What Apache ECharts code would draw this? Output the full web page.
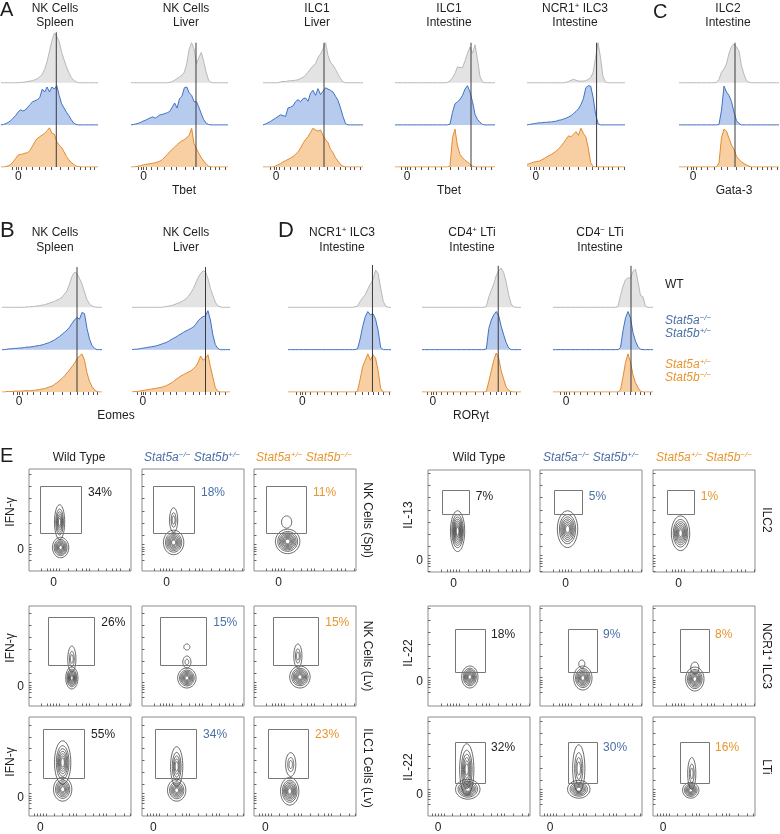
<!DOCTYPE html>
<html><head><meta charset="utf-8">
<script src="https://cdn.jsdelivr.net/npm/echarts@6.0.0/dist/echarts.min.js"></script>
<style>html,body{margin:0;padding:0;background:#fff}#c{width:780px;height:834px}</style>
</head><body><div id="c"></div>
<script>
// ---------- DATA ----------
const histX = [0,2.5,5,7.5,10,12.5,15,17.5,20,22.5,25,27.5,30,32.5,35,37.5,40,42.5,45,47.5,50,52.5,55,57.5,60,62.5,65,67.5,70,72.5,75,77.5,80,82.5,85,87.5,90,92.5,95,97.5,100];

// Panel A: Tbet
const tbet_nkSpl_wt = [0,0,0,0,0,0,0,0,.01,.01, .02,.03,.04,.05,.07,.1,.14,.2,.32,.5, .75,1.0,1.18,1.1,.98,.72,.55,.38,.24,.12, .06,.02,0,0,0,0,0,0,0,0,0];
const tbet_nkSpl_5a = [0,.01,.03,.06,.1,.16,.22,.3,.36,.33, .35,.42,.48,.55,.57,.6,.65,.85,.78,.9, .78,.9,.85,.93,.7,.5,.4,.3,.22,.12, .04,.01,0,0,0,0,0,0,0,0,0];
const tbet_nkSpl_5b = [0,0,.01,.03,.06,.12,.2,.28,.3,.31, .33,.34,.4,.5,.6,.68,.72,.76,.8,.86, .93,.8,.78,.6,.52,.46,.36,.25,.17,.1, .06,.02,.01,0,0,0,0,0,0,0,0];
const tbet_nkLiv_wt = [0,0,0,0,0,0,0,0,0,0, 0,0,0,0,0,0,.01,.03,.06,.1, .14,.18,.25,.45,.8,.95,.8,.45,.6,.72, .5,.25,.06,.01,0,0,0,0,0,0,0];
const tbet_nkLiv_5a = [0,.01,.02,.04,.06,.09,.11,.14,.17,.19, .16,.2,.24,.25,.27,.29,.32,.42,.52,.4, .62,.68,.88,.9,.76,.7,.55,.55,.42,.26, .12,.04,.01,0,0,0,0,0,0,0,0];
const tbet_nkLiv_5b = [0,0,.01,.02,.03,.05,.06,.07,.08,.09, .1,.12,.14,.18,.24,.3,.36,.42,.47,.53, .58,.62,.65,.7,.75,.92,.55,.44,.32,.22, .14,.07,.02,0,0,0,0,0,0,0,0];
const tbet_ilc1Liv_wt = [0,0,0,0,0,0,0,.02,.03,.03, .04,.05,.05,.06,.07,.1,.13,.18,.25,.33, .4,.45,.6,.68,.8,.95,.65,.48,.42,.32, .2,.1,.02,0,0,0,0,0,0,0,0];
const tbet_ilc1Liv_5a = [0,.02,.05,.08,.12,.16,.2,.24,.22,.2, .4,.42,.45,.55,.6,.55,.62,.64,.56,.75, .82,.7,.86,.72,.8,.88,.85,.82,.78,.68, .58,.4,.2,.03,0,0,0,0,0,0,0];
const tbet_ilc1Liv_5b = [0,0,0,0,0,.02,.05,.08,.12,.15, .18,.21,.25,.3,.36,.45,.56,.65,.72,.82, .92,.88,.85,.88,.75,.65,.58,.42,.34,.22, .14,.06,.02,0,0,0,0,0,0,0,0];
const tbet_ilc1Int_wt = [0,0,0,0,0,0,0,0,0,0, 0,0,0,0,0,0,0,0,0,0, 0,.01,.04,.12,.22,.38,.36,.36,.52,.7, .85,.7,.9,.55,.15,.02,0,0,0,0,0];
const tbet_ilc1Int_5a = [0,0,0,0,0,0,0,0,0,0, 0,0,0,0,0,0,0,0,0,0, 0,0,.02,.3,.5,.55,.6,.7,.85,.93, .78,.55,.25,.13,.06,.01,0,0,0,0,0];
const tbet_ilc1Int_5b = [0,0,0,0,0,0,0,0,0,0, 0,0,0,0,0,0,0,0,0,0, 0,0,.02,.7,.9,.5,.3,.22,.16,.12, .06,.02,0,0,0,0,0,0,0,0,0];
const tbet_ncr1_wt = [0,0,0,0,0,0,0,0,0,0, 0,0,0,0,0,0,.01,.03,.06,.08, .06,.04,.04,.04,.05,.08,.12,.25,.6,.95, .6,.15,.02,0,0,0,0,0,0,0,0];
const tbet_ncr1_5a = [0,.01,.02,.03,.04,.05,.05,.06,.06,.07, .07,.08,.09,.11,.12,.14,.16,.19,.22,.27, .32,.38,.48,.62,.88,.93,.92,.65,.25,.03, 0,0,0,0,0,0,0,0,0,0,0];
const tbet_ncr1_5b = [.06,.08,.1,.12,.13,.14,.17,.2,.24,.27, .3,.34,.38,.44,.5,.58,.66,.74,.72,.78, .84,.75,.92,.8,.72,.45,.1,.01,0,0, 0,0,0,0,0,0,0,0,0,0,0];
const tbetLines = [57, 67, 61, 76, 71];
const tbetLineTops = [3.2, 2.95, 2.95, 2.95, 2.95];

// Panel C: Gata-3
const gata_ilc2_wt = [0,0,0,0,0,0,0,0,0,0, 0,0,0,0,0,.01,.08,.25,.33,.45, .7,.85,.92,.85,.75,.4,.2,.05,.01,0, 0,0,0,0,0,0,0,0,0,0,0];
const gata_ilc2_5a = [0,0,0,0,0,0,0,0,0,0, 0,0,0,0,0,0,.01,.35,.92,.78, .7,.55,.3,.1,.03,0,0,0,0,0, 0,0,0,0,0,0,0,0,0,0,0];
const gata_ilc2_5b = [0,0,0,0,0,0,0,0,0,0, 0,0,0,0,0,0,.1,.7,.9,.85, .68,.52,.42,.25,.18,.12,.08,.05,.02,0, 0,0,0,0,0,0,0,0,0,0,0];
const gataLines = [56];
const gataLineTops = [2.95];

// Panel B: Eomes
const eomes_nkSpl_wt = [0,0,0,0,0,0,0,0,0,0, .01,.01,.02,.02,.03,.04,.05,.06,.08,.1, .12,.14,.17,.2,.24,.31,.39,.55,.73,.83, .8,.68,.55,.36,.18,.08,.03,.01,0,0,0];
const eomes_nkSpl_5a = [0,0,.01,.02,.02,.03,.03,.04,.04,.05, .06,.06,.07,.08,.09,.1,.11,.13,.15,.17, .2,.23,.27,.31,.36,.41,.46,.53,.62,.7, .76,.72,.88,.85,.5,.25,.1,.03,0,0,0];
const eomes_nkSpl_5b = [0,0,.01,.01,.01,.02,.02,.02,.02,.03, .03,.03,.03,.04,.05,.06,.07,.08,.1,.12, .14,.18,.22,.27,.32,.38,.45,.52,.6,.68, .78,.85,.9,.75,.45,.25,.13,.05,.01,0,0];
const eomes_nkLiv_wt = [0,0,0,0,0,0,0,0,0,0, 0,0,0,.01,.02,.03,.04,.06,.08,.1, .13,.16,.2,.26,.34,.44,.57,.7,.8,.86, .84,.68,.45,.28,.12,.04,.01,0,0,0,0];
const eomes_nkLiv_5a = [0,.01,.01,.02,.03,.04,.05,.06,.07,.08, .09,.11,.13,.15,.17,.2,.24,.27,.3,.34, .37,.41,.44,.47,.5,.53,.6,.68,.74,.78, .8,.92,.7,.35,.12,.03,0,0,0,0,0];
const eomes_nkLiv_5b = [0,.01,.01,.02,.03,.04,.05,.06,.07,.08, .09,.1,.11,.13,.15,.18,.21,.25,.3,.34, .38,.41,.44,.47,.5,.55,.6,.7,.85,.75, .8,.88,.6,.35,.1,.02,0,0,0,0,0];
const eomesLines = [75, 75];
const eomesLineTops = [2.95, 2.95];

// Panel D: RORgt
const ror_ncr1_wt = [0,0,0,0,0,0,0,0,0,0, 0,0,0,0,0,0,0,0,0,0, 0,0,0,0,0,0,.01,.03,.14,.22, .3,.43,.55,.65,.88,.8,.45,.14,.02,0,0];
const ror_ncr1_5a = [0,0,0,0,0,0,0,0,0,0, 0,0,0,0,0,0,0,0,0,0, 0,0,0,0,0,0,0,.02,.25,.55, .78,.9,.82,.85,.72,.45,.05,0,0,0,0];
const ror_ncr1_5b = [0,0,0,0,0,0,0,0,0,0, 0,0,0,0,0,0,0,0,0,0, 0,0,0,0,0,0,0,.02,.3,.6, .75,.9,.75,.88,.8,.5,.08,0,0,0,0];
const ror_cd4p_wt = [0,0,0,0,0,0,0,0,0,0, 0,0,0,0,0,0,0,0,0,0, 0,0,0,0,0,0,.02,.25,.4,.55, .75,.86,.93,.82,.6,.3,.08,.01,0,0,0];
const ror_cd4p_5a = [0,0,0,0,0,0,0,0,0,0, 0,0,0,0,0,0,0,0,0,0, 0,0,0,0,0,0,.02,.5,.7,.82, .9,.8,.55,.35,.17,.04,0,0,0,0,0];
const ror_cd4p_5b = [0,0,0,0,0,0,0,0,0,0, 0,0,0,0,0,0,0,0,0,0, 0,0,0,0,0,0,.01,.25,.5,.75, .92,.8,.5,.3,.12,.04,.01,0,0,0,0];
const ror_cd4n_wt = [0,0,0,0,0,0,0,0,0,0, 0,0,0,0,0,0,0,0,0,0, 0,0,0,0,0,0,.02,.28,.5,.65, .7,.68,.85,.9,.6,.28,.25,.02,0,0,0];
const ror_cd4n_5a = [0,0,0,0,0,0,0,0,0,0, 0,0,0,0,0,0,0,0,0,0, 0,0,0,0,0,0,0,.05,.45,.75, .9,.75,.4,.2,.07,.01,0,0,0,0,0];
const ror_cd4n_5b = [0,0,0,0,0,0,0,0,0,0, 0,0,0,0,0,0,0,0,0,0, 0,0,0,0,0,0,0,.05,.35,.7, .9,.7,.4,.22,.1,.02,0,0,0,0,0];
const rorLines = [82, 77, 78];
const rorLineTops = [3.0, 2.98, 2.98];

// Panel E: gates [x1, yBottom, x2, yTop], percentages, contour populations [cx, cy, rx, ry, levels]
const ifnGates = [
  [[11,37,51,83],[11,37,51,83],[12,37,51,83]],
  [[19,41,64,89],[18,41,63,89],[19,41,63,89]],
  [[14,39,54,88],[13,39,53,88],[14,39,53,88]]
];
const ifnPct = [['34%','18%','11%'],['26%','15%','15%'],['55%','34%','23%']];
const ifnPops = [
  [ [[31,23,8,10,8],[30,48,5,17,6]], [[31,28,10,12,8],[31,50,4,12,3]], [[33,29,12,12,9],[32,48,5,6,1]] ],
  [ [[42,28,6,11,8],[42,47,4,13,3]], [[44,28,9,10,8],[44,44,4,6,2],[44,59,3,3,1]], [[45,29,10,11,8],[43,50,4,12,3]] ],
  [ [[33,54,8,22,7],[33,27,9,12,7]], [[34,50,6,20,5],[34,26,9,11,7]], [[36,52,5,12,3],[35,25,9,14,8]] ]
];
const ilGates = [
  [[14,56,40,80],[14,56,41,80],[14,56,40,80]],
  [[26,34,55,77],[27,34,55,77],[26,34,54,77]],
  [[26,34,55,75],[27,34,55,75],[26,34,54,75]]
];
const ilPct = [['7%','5%','1%'],['18%','9%','8%'],['32%','30%','16%']];
const ilPops = [
  [ [[29,40,7,20,9]], [[27,42,10,18,8]], [[27,38,9,17,8]] ],
  [ [[41,29,8,11,8]], [[42,28,9,12,8],[41,42,3,4,1]], [[41,27,9,12,8],[41,38,4,6,1]] ],
  [ [[39,27,12,10,8],[38,47,7,26,6]], [[38,27,11,9,7],[38,48,6,24,4]], [[37,26,8,8,7],[38,43,4,16,3]] ]
];

const histTickOffsets = [-6,-2,0,3,8,14,21,28,34,43,51,58,64,69,74,78,84,90];
const contourTickOffsetsX = [-12,-6,-3,0,3,6,14,22,28,32,35,44,52,58,62,65,74,82,88,92];
const contourTickOffsetsY = [-10,-5,-2,0,2,5,14,26,38,50,62,74,86];

// ---------- STYLE ----------
const FF = '"Liberation Sans", Arial, Helvetica, sans-serif';
const DARK = '#1e1e1e', BLUE_T = '#4b6fa6', ORANGE_T = '#e8952f';
const GRAY = {line:'#b8b8b8', fill:'#e3e3e3'};
const BLUE = {line:'#4271c3', fill:'#b7cbef'};
const ORANGE = {line:'#e38a30', fill:'#f7cfa2'};

const grids = [], xAxes = [], yAxes = [], series = [], graphics = [];
function addGrid(g, xa, ya) {
  const i = grids.length;
  grids.push(g);
  xAxes.push(Object.assign({gridIndex:i}, xa));
  yAxes.push(Object.assign({gridIndex:i}, ya));
  return i;
}
function inRange(v){ return v >= 0 && v <= 100; }

function histPanel(p, top, height, ymax) {
  const gi = addGrid({left:p.left, top:top, width:p.width, height:height},
    {type:'value', min:0, max:100, axisLine:{show:false}, splitLine:{show:false},
     axisTick:{show:true, length:3, lineStyle:{color:'#555', width:1},
       customValues: histTickOffsets.map(o => p.zero + o).filter(inRange)},
     axisLabel:{show:true, customValues:[p.zero], formatter:() => '0', fontSize:12, fontFamily:FF, color:DARK, margin:4}},
    {type:'value', min:0, max:ymax, show:false});
  [[p.wt, 2, GRAY], [p.a, 1, BLUE], [p.b, 0, ORANGE]].forEach(s => {
    const vals = s[0], base = s[1], c = s[2];
    series.push({type:'line', xAxisIndex:gi, yAxisIndex:gi, silent:true,
      data: histX.map((x, j) => [x, base + vals[j]]), symbol:'none',
      lineStyle:{color:c.line, width:1}, areaStyle:{color:c.fill, opacity:1, origin:base}});
  });
  series.push({type:'line', xAxisIndex:gi, yAxisIndex:gi, silent:true, z:5,
    data:[[p.line, 0], [p.line, p.lineTop]], symbol:'none', lineStyle:{color:'#3a3a3a', width:1}});
}

const topA = 28, hA = 139, ymaxA = 3.3;
const topB = 262, hB = 130, ymaxB = 3.07;
[
  {left:1, width:97, zero:18, wt:tbet_nkSpl_wt, a:tbet_nkSpl_5a, b:tbet_nkSpl_5b, line:tbetLines[0], lineTop:tbetLineTops[0]},
  {left:131, width:97, zero:13, wt:tbet_nkLiv_wt, a:tbet_nkLiv_5a, b:tbet_nkLiv_5b, line:tbetLines[1], lineTop:tbetLineTops[1]},
  {left:263, width:100, zero:13, wt:tbet_ilc1Liv_wt, a:tbet_ilc1Liv_5a, b:tbet_ilc1Liv_5b, line:tbetLines[2], lineTop:tbetLineTops[2]},
  {left:395, width:100, zero:12, wt:tbet_ilc1Int_wt, a:tbet_ilc1Int_5a, b:tbet_ilc1Int_5b, line:tbetLines[3], lineTop:tbetLineTops[3]},
  {left:527, width:98, zero:9, wt:tbet_ncr1_wt, a:tbet_ncr1_5a, b:tbet_ncr1_5b, line:tbetLines[4], lineTop:tbetLineTops[4]},
  {left:679, width:100, zero:14, wt:gata_ilc2_wt, a:gata_ilc2_5a, b:gata_ilc2_5b, line:gataLines[0], lineTop:gataLineTops[0]}
].forEach(p => histPanel(p, topA, hA, ymaxA));
[
  {left:2, width:100, zero:17, wt:eomes_nkSpl_wt, a:eomes_nkSpl_5a, b:eomes_nkSpl_5b, line:eomesLines[0], lineTop:eomesLineTops[0]},
  {left:132, width:98, zero:11, wt:eomes_nkLiv_wt, a:eomes_nkLiv_5a, b:eomes_nkLiv_5b, line:eomesLines[1], lineTop:eomesLineTops[1]},
  {left:288, width:103, zero:14, wt:ror_ncr1_wt, a:ror_ncr1_5a, b:ror_ncr1_5b, line:rorLines[0], lineTop:rorLineTops[0]},
  {left:422, width:99, zero:11, wt:ror_cd4p_wt, a:ror_cd4p_5a, b:ror_cd4p_5b, line:rorLines[1], lineTop:rorLineTops[1]},
  {left:553, width:100, zero:13, wt:ror_cd4n_wt, a:ror_cd4n_5a, b:ror_cd4n_5b, line:rorLines[2], lineTop:rorLineTops[2]}
].forEach(p => histPanel(p, topB, hB, ymaxB));

// ---------- contour panels ----------
function contourRender(params, api) {
  const cx = api.value(0), cy = api.value(1), rx = api.value(2), ry = api.value(3), n = api.value(4);
  const children = [];
  for (let l = 0; l < n; l++) {
    const k = 1 - 0.88 * Math.pow(l / Math.max(n, 1), 0.7);
    const pts = [];
    for (let t = 0; t < 40; t++) {
      const a = t / 40 * Math.PI * 2;
      pts.push(api.coord([cx + rx * k * Math.cos(a), cy + ry * k * Math.sin(a)]));
    }
    children.push({type:'polygon', shape:{points:pts}, style:{fill:'none', stroke:'#3a3a3a', lineWidth:0.75}});
  }
  return {type:'group', children:children};
}
function contourPanel(left, top, height, zx, zy, showX, showY, pops, gate, pct, color) {
  const gi = addGrid({left:left, top:top, width:102, height:height, show:true, borderColor:'#8c8c8c', borderWidth:1, backgroundColor:'rgba(0,0,0,0)'},
    {type:'value', min:0, max:100, axisLine:{show:false}, splitLine:{show:false},
     axisTick:{show:true, inside:true, length:2.5, lineStyle:{color:'#666'}, customValues: contourTickOffsetsX.map(o => zx + o).filter(inRange)},
     axisLabel:{show:showX, customValues:[zx], formatter:() => '0', fontSize:12, fontFamily:FF, color:DARK, margin:6}},
    {type:'value', min:0, max:100, axisLine:{show:false}, splitLine:{show:false},
     axisTick:{show:true, inside:true, length:2.5, lineStyle:{color:'#666'}, customValues: contourTickOffsetsY.map(o => zy + o).filter(inRange)},
     axisLabel:{show:showY, customValues:[zy], formatter:() => '0', fontSize:12, fontFamily:FF, color:DARK, margin:5}});
  series.push({type:'custom', xAxisIndex:gi, yAxisIndex:gi, silent:true, data:pops, renderItem:contourRender});
  series.push({type:'custom', xAxisIndex:gi, yAxisIndex:gi, silent:true, data:[gate], z:4,
    renderItem:(params, api) => {
      const p1 = api.coord([api.value(0), api.value(3)]);
      const p2 = api.coord([api.value(2), api.value(1)]);
      return {type:'group', children:[
        {type:'rect', shape:{x:Math.round(p1[0]) + 0.5, y:Math.round(p1[1]) + 0.5, width:Math.round(p2[0] - p1[0]), height:Math.round(p2[1] - p1[1])},
         style:{fill:'none', stroke:'#777', lineWidth:1}},
        {type:'text', x:p2[0] + 7, y:p1[1] + 6,
         style:{text:pct, fill:color, fontSize:12, fontFamily:FF, align:'left', verticalAlign:'middle'}}
      ]};
    }});
}
const colColors = [DARK, BLUE_T, ORANGE_T];
const leftCols = [29, 142, 254], rightCols = [428, 540, 653];
const leftRows = [[469,102],[606,100],[717,100]], rightRows = [[470,102],[606,100],[717,100]];
const leftZero = [[24,21],[24,19],[11,18]], rightZero = [[25,11],[25,24],[10,22]];
for (let r = 0; r < 3; r++) for (let c = 0; c < 3; c++) {
  contourPanel(leftCols[c], leftRows[r][0], leftRows[r][1], leftZero[r][0], leftZero[r][1], r !== 1, c === 0,
    ifnPops[r][c], ifnGates[r][c], ifnPct[r][c], colColors[c]);
  contourPanel(rightCols[c], rightRows[r][0], rightRows[r][1], rightZero[r][0], rightZero[r][1], r !== 1, c === 0,
    ilPops[r][c], ilGates[r][c], ilPct[r][c], colColors[c]);
}

// ---------- texts ----------
function richSet(color, italic) {
  const fs = italic ? 'italic' : 'normal';
  return {
    n:{fontSize:12, fontFamily:FF, fontStyle:fs, fill:color, color:color, lineHeight:14},
    s:{fontSize:8, fontFamily:FF, fontStyle:fs, fill:color, color:color, lineHeight:14, verticalAlign:'top', padding:[0,0,0,0]}
  };
}
function text(x, y, str, o) {
  o = o || {};
  graphics.push({type:'text', x:x, y:y, rotation:o.rot || 0, silent:true, z:100,
    style:{text:str, fontSize:o.size || 12, fontFamily:FF, fontStyle:o.italic ? 'italic' : 'normal',
      fill:o.color || DARK, align:o.align || 'center', verticalAlign:'middle', rich:o.rich}});
}
// panel letters
text(0, 10, 'A', {size:20, align:'left'});
text(653, 12, 'C', {size:20, align:'left'});
text(0, 231, 'B', {size:22, align:'left'});
text(278, 231, 'D', {size:22, align:'left'});
text(0, 456, 'E', {size:20, align:'left'});
// titles row A
const titlesA = [['NK Cells','Spleen',55],['NK Cells','Liver',186],['ILC1','Liver',317],['ILC1','Intestine',449],['{n|NCR1}{s|+}{n| ILC3}','Intestine',575],['ILC2','Intestine',728]];
titlesA.forEach(t => { text(t[2], 9, t[0], {rich:richSet(DARK,false)}); text(t[2], 23, t[1]); });
const titlesB = [['NK Cells','Spleen',55],['NK Cells','Liver',186],['{n|NCR1}{s|+}{n| ILC3}','Intestine',342],['{n|CD4}{s|+}{n| LTi}','Intestine',472],['{n|CD4}{s|−}{n| LTi}','Intestine',600]];
titlesB.forEach(t => { text(t[2], 233, t[0], {rich:richSet(DARK,false)}); text(t[2], 248, t[1]); });
// axis names
text(184, 191, 'Tbet'); text(449, 191, 'Tbet'); text(734, 191, 'Gata-3');
text(116, 416, 'Eomes'); text(471, 416, 'RORγt');
// legend
text(665, 285, 'WT', {align:'left'});
text(665, 321, '{n|Stat5a}{s|−/−}', {align:'left', rich:richSet(BLUE_T,true)});
text(665, 334, '{n|Stat5b}{s|+/−}', {align:'left', rich:richSet(BLUE_T,true)});
text(665, 365, '{n|Stat5a}{s|+/−}', {align:'left', rich:richSet(ORANGE_T,true)});
text(665, 378, '{n|Stat5b}{s|−/−}', {align:'left', rich:richSet(ORANGE_T,true)});
// E headers
text(79, 458, 'Wild Type'); text(479, 458, 'Wild Type');
[192, 591].forEach(x => text(x, 458, '{n|Stat5a}{s|−/−}{n| Stat5b}{s|+/−}', {rich:richSet(BLUE_T,true)}));
[304, 704].forEach(x => text(x, 458, '{n|Stat5a}{s|+/−}{n| Stat5b}{s|−/−}', {rich:richSet(ORANGE_T,true)}));
// y labels
[512, 648, 762].forEach(y => text(11, y, 'IFN-γ', {rot:Math.PI/2}));
text(409, 515, 'IL-13', {rot:Math.PI/2});
text(409, 653, 'IL-22', {rot:Math.PI/2});
text(409, 767, 'IL-22', {rot:Math.PI/2});
// row labels on the right
text(367, 520, 'NK Cells (Spl)', {rot:-Math.PI/2});
text(367, 656, 'NK Cells (Lv)', {rot:-Math.PI/2});
text(367, 768, 'ILC1 Cells (Lv)', {rot:-Math.PI/2});
text(766, 520, 'ILC2', {rot:-Math.PI/2});
text(766, 656, '{n|NCR1}{s|+}{n| ILC3}', {rot:-Math.PI/2, rich:richSet(DARK,false)});
text(766, 767, 'LTi', {rot:-Math.PI/2});

const chart = echarts.init(document.getElementById('c'), null, {width:780, height:834});
chart.setOption({
  animation:false,
  backgroundColor:'#ffffff',
  grid:grids, xAxis:xAxes, yAxis:yAxes, series:series, graphic:graphics
});
</script>
</body></html>
